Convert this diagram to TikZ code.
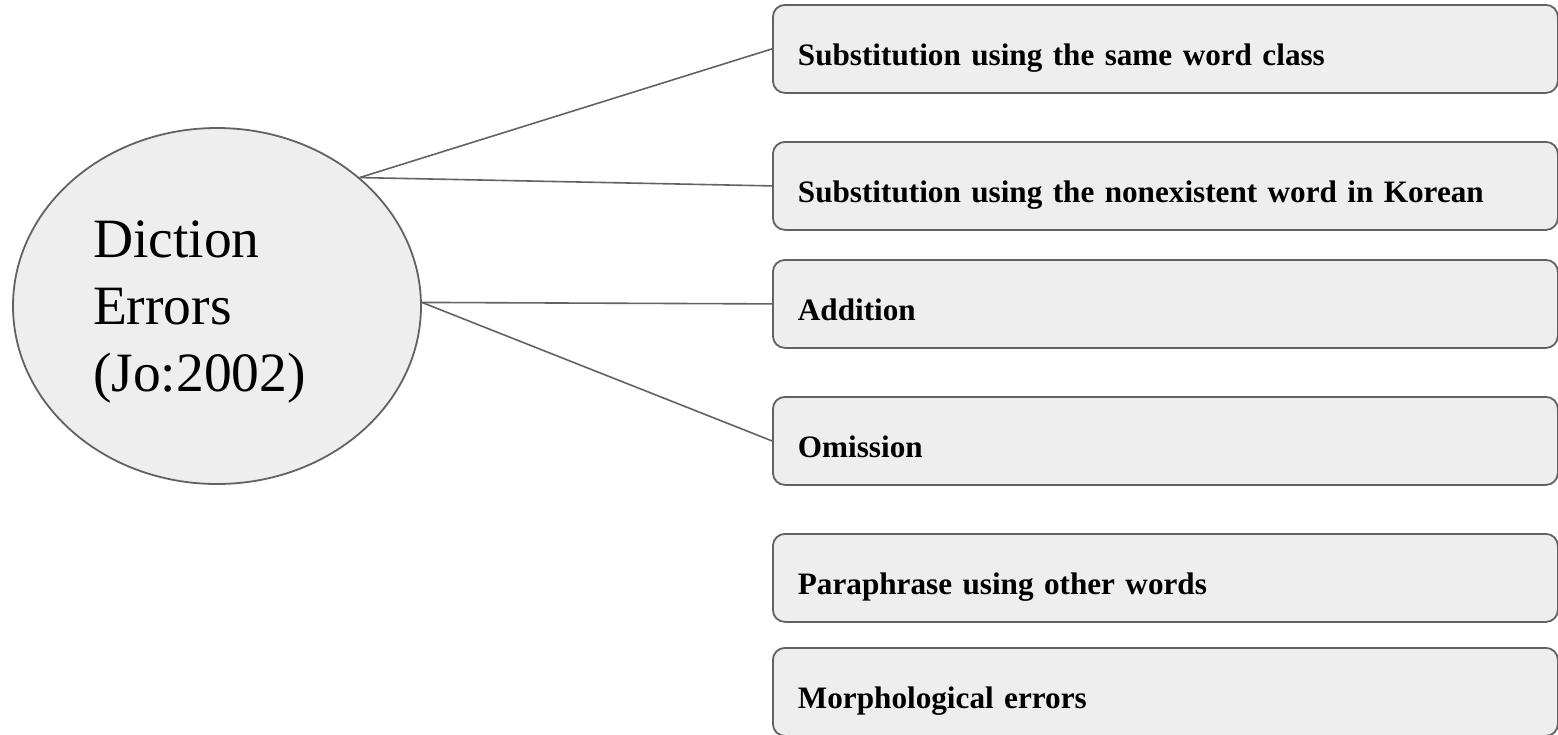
\documentclass[tikz,border=0pt]{standalone}
\usepackage{fontspec}
\setmainfont{Liberation Serif}
\usetikzlibrary{shapes.geometric}
\definecolor{fillg}{HTML}{EEEEEE}
\definecolor{lineg}{HTML}{626262}
\begin{document}
\begin{tikzpicture}[x=1pt,y=-1pt,
  box/.style={draw=lineg, line width=1.8pt, fill=fillg, rounded corners=12pt,
    anchor=north west, minimum height=88pt, text width=735pt, inner xsep=25pt,
    inner ysep=0pt, align=left, text height=34pt, text depth=0pt,
    font=\bfseries\fontsize{31.2}{37}\selectfont},
  hub/.style={ellipse, draw=lineg, line width=1.8pt, fill=fillg,
    minimum width=408pt, minimum height=356pt, inner sep=0pt,
    text width=248pt, align=left, font=\fontsize{55.5}{67}\selectfont},
  conn/.style={draw=lineg, line width=1.6pt}]
\useasboundingbox (0,0) rectangle (1558,734);
\node[hub] (c) at (217,306) {\rule{0pt}{48pt}Diction\\Errors\\(Jo:2002)};
\node[box] (b1) at (772,4) {Substitution using the same word class};
\node[box] (b2) at (772,141) {Substitution using the nonexistent word in Korean};
\node[box] (b3) at (772,259) {Addition};
\node[box] (b4) at (772,396) {Omission};
\node[box] (b5) at (772,533) {Paraphrase using other words};
\node[box] (b6) at (772,647) {Morphological errors};
\draw[conn] (c.42) -- (b1.west);
\draw[conn] (c.42) -- (b2.west);
\draw[conn] (c.1) -- (b3.west);
\draw[conn] (c.1) -- (b4.west);
\end{tikzpicture}
\end{document}
